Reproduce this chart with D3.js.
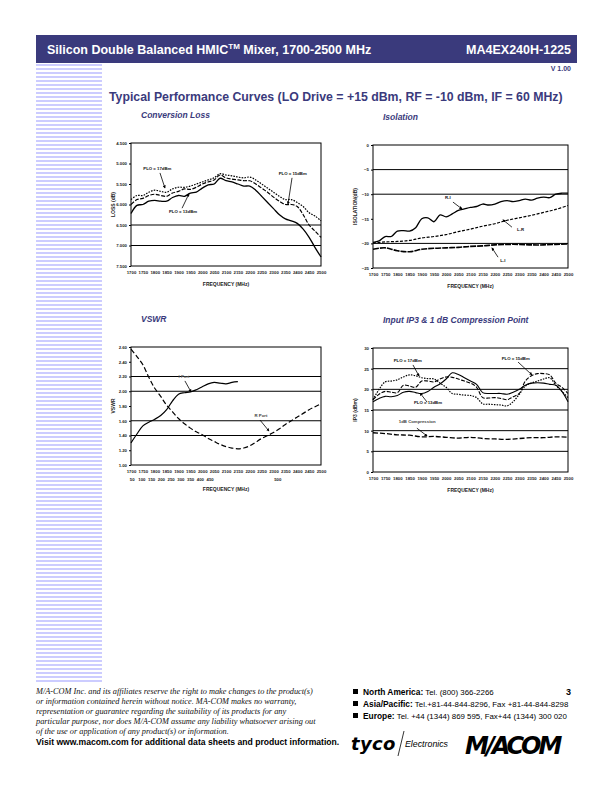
<!DOCTYPE html>
<html>
<head>
<meta charset="utf-8">
<script src="https://cdn.jsdelivr.net/npm/d3@7"></script>
<style>
  body { margin: 0; background: #fff; }
  svg { display: block; }
</style>
</head>
<body>
<script>
// ---- data ----
var f25 = d3.range(1700, 2501, 25);
var f50 = d3.range(1700, 2501, 50);
var fTicks = d3.range(1700, 2501, 50);

var lossPlo13 = [6.22,6.02,6.0,5.92,5.9,5.92,5.92,5.83,5.78,5.8,5.72,5.7,5.6,5.52,5.5,5.36,5.42,5.45,5.5,5.55,5.55,5.65,5.8,5.95,6.1,6.25,6.35,6.4,6.46,6.6,6.8,7.05,7.28];
var lossPlo15 = [6.0,5.88,5.85,5.78,5.75,5.78,5.8,5.72,5.68,5.62,5.63,5.58,5.5,5.45,5.4,5.28,5.35,5.38,5.4,5.42,5.42,5.5,5.6,5.7,5.82,5.92,6.0,6.0,6.05,6.25,6.5,6.65,6.8];
var lossPlo17 = [5.88,5.78,5.78,5.7,5.65,5.68,5.7,5.62,5.58,5.58,5.55,5.5,5.45,5.4,5.35,5.25,5.28,5.3,5.33,5.35,5.33,5.4,5.5,5.6,5.7,5.8,5.88,5.88,5.95,6.05,6.2,6.28,6.4];
var lossTicks = [4.5,5.0,5.5,6.0,6.5,7.0,7.5];
var lossGrid = [6.5,7.0];

var isoRI = [-19.8,-19.5,-18.6,-18.6,-17.5,-17.4,-17.5,-16.8,-15.0,-14.8,-15.6,-14.2,-14.6,-14.0,-13.3,-13.0,-12.7,-12.5,-12.0,-12.2,-12.0,-11.5,-11.3,-11.5,-11.3,-11.0,-11.2,-10.8,-10.6,-10.7,-10.0,-9.8,-9.8];
var isoLR = [-19.9,-19.7,-19.6,-19.4,-18.9,-18.6,-18.2,-17.6,-17.1,-16.5,-16.0,-15.3,-14.8,-14.3,-13.7,-13.1,-12.3];
var isoLI = [-21.2,-20.9,-21.5,-21.7,-21.2,-21.0,-20.9,-20.8,-20.6,-20.5,-20.3,-20.2,-20.2,-20.3,-20.3,-20.2,-20.1];
var isoTicks = [0,-5,-10,-15,-20,-25];
var isoGrid = [-5,-10,-20];

var fIport = d3.range(1700, 2151, 25);
var vswrI = [1.30,1.42,1.53,1.58,1.62,1.67,1.75,1.87,1.96,1.98,1.99,2.02,2.06,2.10,2.12,2.11,2.10,2.12,2.13];
var vswrR = [2.57,2.47,2.36,2.19,2.04,1.93,1.81,1.72,1.63,1.56,1.50,1.45,1.41,1.36,1.32,1.28,1.25,1.23,1.22,1.23,1.26,1.31,1.36,1.40,1.44,1.49,1.55,1.60,1.65,1.70,1.75,1.79,1.83];
var vswrTicks = [2.6,2.4,2.2,2.0,1.8,1.6,1.4,1.2,1.0];
var vswrGrid = [2.2,2.0,1.6,1.4];
var ifTicks = [50,100,150,200,250,300,350,400,450,500];
var ifAtRf = [1705,1746,1787,1828,1869,1910,1951,1992,2033,2318];

var ip3Plo13 = [17,17.8,18.3,18.2,18.5,19.3,19.5,19.2,19.0,19.5,20.5,21.3,22.5,24.0,23.6,22.8,22.0,21.2,19.2,19.0,19.0,19.0,18.8,19.3,20.0,21.0,21.5,21.6,21.5,21.2,21.0,19.5,17.0];
var ip3Plo15 = [17.5,18.8,19.5,19.3,19.2,21.0,20.8,20.5,22.0,22.0,21.8,22.5,23.0,22.9,22.5,22.0,21.5,20.5,18.0,17.9,18.0,17.8,17.5,18.2,19.0,22.0,23.3,23.8,23.8,23.5,21.5,20.5,19.0];
var ip3Plo17 = [17.5,20.0,21.8,22.0,22.3,23.0,23.5,23.3,22.8,22.6,22.5,21.5,20.5,19.0,18.8,18.6,18.5,18.0,16.5,16.4,16.3,16.2,16.0,17.0,18.8,20.8,21.5,22.0,22.5,22.8,21.0,19.5,18.0];
var p1dB = [9.5,9.3,9.0,8.9,8.5,8.6,8.4,8.2,8.4,8.1,8.0,7.9,8.1,8.3,8.3,8.5,8.4];
var ip3Ticks = [30,25,20,15,10,5,0];
var ip3Grid = [25,20,15,10,5];

// notes: [text, textFreq, textVal, fromFreq, fromVal, toFreq, toVal, colour]
var lossNotes = [["PLO = 17dBm",1752,5.17,1822,5.23,1843,5.6],["PLO = 13dBm",1860,6.2,1915,6.09,1944,5.74],["PLO = 15dBm",2322,5.29,2378,5.35,2361,5.99]];
var isoNotes = [["R-I",1995,-11.0,2028,-11.6,2065,-13.0],["L-R",2291,-17.4,2270,-16.7,2233,-15.2],["L-I",2222,-23.7,2213,-22.8,2188,-20.9]];
var vswrNotes = [["I Port",1900,2.18,1927,2.14,1953,1.99,"#666"],["R Port",2220,1.65,2243,1.61,2281,1.46,"#444"]];
var ip3Notes = [["PLO = 17dBm",1785,26.6,1864,25.9,1889,23.2],["PLO = 15dBm",2228,27.1,2295,26.6,2352,23.5],["PLO = 13dBm",1868,16.4,1922,16.9,1893,19.1],["1dB Compression",1806,11.9,1880,10.6,1922,8.7,"#444"]];

var W = 612, H = 792;
var navy = "#3a3a7c";
var svg = d3.select("body").append("svg").attr("width", W).attr("height", H);

svg.append("defs").append("marker")
  .attr("id", "ah").attr("viewBox", "0 0 6 6").attr("refX", 5).attr("refY", 3)
  .attr("markerWidth", 4).attr("markerHeight", 4).attr("orient", "auto")
  .append("path").attr("d", "M0,0L6,3L0,6z").attr("fill", "#000");

// header band
svg.append("rect").attr("x", 36).attr("y", 35).attr("width", 541).attr("height", 28).attr("fill", navy);
var ht = svg.append("text").attr("x", 47).attr("y", 54).attr("fill", "#fff")
  .style("font", "bold 12.5px 'Liberation Sans', Arial, sans-serif");
ht.append("tspan").text("Silicon Double Balanced HMIC");
ht.append("tspan").attr("dy", -5).style("font-size", "8px").text("TM");
ht.append("tspan").attr("dy", 5).text(" Mixer, 1700-2500 MHz");
svg.append("text").attr("x", 571).attr("y", 54).attr("text-anchor", "end").attr("fill", "#fff")
  .style("font", "bold 12.5px 'Liberation Sans', Arial, sans-serif").text("MA4EX240H-1225");

// striped side bar
svg.append("g").selectAll("rect").data(d3.range(64, 681, 4)).enter().append("rect")
  .attr("x", 36).attr("y", function(d) { return d; }).attr("width", 66).attr("height", 2)
  .attr("fill", "#ccccff");

svg.append("text").attr("x", 571).attr("y", 71).attr("text-anchor", "end").attr("fill", navy)
  .style("font", "bold 7px 'Liberation Sans', Arial, sans-serif").text("V 1.00");

svg.append("text").attr("x", 109).attr("y", 101).attr("fill", navy)
  .style("font", "bold 12.3px 'Liberation Sans', Arial, sans-serif")
  .text("Typical Performance Curves (LO Drive = +15 dBm, RF = -10 dBm, IF = 60 MHz)");

function chart(o) {
  var g = svg.append("g");
  var x = d3.scaleLinear().domain([1700, 2500]).range([o.left, o.right]);
  var y = d3.scaleLinear().domain(o.yDomain).range([o.top, o.bottom]);

  g.append("text").attr("x", o.left + 10).attr("y", o.top - 25).attr("fill", navy)
    .style("font", "italic bold 8.5px 'Liberation Sans', Arial, sans-serif").text(o.title);

  g.selectAll(".grid").data(o.grid).enter().append("line")
    .attr("x1", o.left).attr("x2", o.right)
    .attr("y1", function(d) { return y(d); }).attr("y2", function(d) { return y(d); })
    .attr("stroke", "#000").attr("stroke-width", 1);

  g.append("rect").attr("x", o.left).attr("y", o.top).attr("width", o.right - o.left)
    .attr("height", o.bottom - o.top).attr("fill", "none").attr("stroke", "#000").attr("stroke-width", 1);

  var yAxis = d3.axisLeft(y).tickValues(o.yTicks).tickSize(2).tickPadding(2).tickFormat(o.fmt);
  var ya = g.append("g").attr("transform", "translate(" + o.left + ",0)").call(yAxis);
  ya.select(".domain").remove();

  var xAxis = d3.axisBottom(x).tickValues(fTicks).tickSize(0).tickPadding(5).tickFormat(d3.format("d"));
  var xa = g.append("g").attr("transform", "translate(0," + o.bottom + ")").call(xAxis);
  xa.select(".domain").remove();

  [ya, xa].forEach(function(a) {
    a.selectAll("text").style("font", "bold 4.3px 'Liberation Sans', Arial, sans-serif").attr("fill", "#222");
    a.selectAll("line").attr("stroke", "#000");
  });

  if (o.ifRow) {
    g.selectAll(".iftick").data(ifTicks).enter().append("text")
      .attr("x", function(d, i) { return x(ifAtRf[i]); })
      .attr("y", o.bottom + 16).attr("text-anchor", "middle").attr("fill", "#222")
      .style("font", "bold 4.3px 'Liberation Sans', Arial, sans-serif")
      .text(function(d) { return d; });
  }

  g.append("text").attr("x", (o.left + o.right) / 2).attr("y", o.bottom + (o.ifRow ? 26 : 20))
    .attr("text-anchor", "middle").attr("fill", "#222")
    .style("font", "bold 5px 'Liberation Sans', Arial, sans-serif").text("FREQUENCY (MHz)");

  g.append("text").attr("transform", "translate(" + (o.left - 16) + "," + ((o.top + o.bottom) / 2) + ") rotate(-90)")
    .attr("text-anchor", "middle").attr("fill", "#222")
    .style("font", "bold 5px 'Liberation Sans', Arial, sans-serif").text(o.yLabel);

  var line = d3.line().x(function(d) { return x(d[0]); }).y(function(d) { return y(d[1]); })
    .curve(d3.curveCatmullRom);

  o.series.forEach(function(s) {
    g.append("path").datum(d3.zip(s.f, s.v)).attr("d", line)
      .attr("fill", "none").attr("stroke", "#000").attr("stroke-width", s.w || 1.1)
      .attr("stroke-dasharray", s.dash || null);
  });

  o.notes.forEach(function(n) {
    g.append("text").attr("x", x(n[1])).attr("y", y(n[2])).attr("fill", n[7] || "#111")
      .style("font", "bold 4.3px 'Liberation Sans', Arial, sans-serif").text(n[0]);
    g.append("line").attr("x1", x(n[3])).attr("y1", y(n[4])).attr("x2", x(n[5])).attr("y2", y(n[6]))
      .attr("stroke", "#000").attr("stroke-width", 0.8).attr("marker-end", "url(#ah)");
  });
}

chart({
  title: "Conversion Loss", left: 131, right: 321, top: 143, bottom: 266,
  yDomain: [4.5, 7.5], yTicks: lossTicks, grid: lossGrid, fmt: d3.format(".3f"), yLabel: "LOSS (dB)",
  series: [
    { f: f25, v: lossPlo13, w: 1.3 },
    { f: f25, v: lossPlo15, dash: "4,1.5", w: 1.2 },
    { f: f25, v: lossPlo17, dash: "1.6,1.2", w: 1.2 }
  ],
  notes: lossNotes
});

chart({
  title: "Isolation", left: 373, right: 568, top: 145, bottom: 268,
  yDomain: [0, -25], yTicks: isoTicks, grid: isoGrid, fmt: d3.format("d"), yLabel: "ISOLATION(dB)",
  series: [
    { f: f25, v: isoRI, w: 1.3 },
    { f: f50, v: isoLR, dash: "3,1.5", w: 1.2 },
    { f: f50, v: isoLI, dash: "6,1", w: 1.6 }
  ],
  notes: isoNotes
});

chart({
  title: "VSWR", left: 131, right: 321, top: 347, bottom: 465, ifRow: true,
  yDomain: [2.6, 1.0], yTicks: vswrTicks, grid: vswrGrid, fmt: d3.format(".2f"), yLabel: "VSWR",
  series: [
    { f: fIport, v: vswrI, w: 1.2 },
    { f: f25, v: vswrR, dash: "5,2.5", w: 1.2 }
  ],
  notes: vswrNotes
});

chart({
  title: "Input IP3 & 1 dB Compression Point", left: 373, right: 568, top: 348, bottom: 472,
  yDomain: [30, 0], yTicks: ip3Ticks, grid: ip3Grid, fmt: d3.format("d"), yLabel: "IP3 (dBm)",
  series: [
    { f: f25, v: ip3Plo13, w: 1.1 },
    { f: f25, v: ip3Plo15, dash: "4,1.5", w: 1.1 },
    { f: f25, v: ip3Plo17, dash: "1.5,1.2", w: 1.2 },
    { f: f50, v: p1dB, dash: "5,2", w: 1.3 }
  ],
  notes: ip3Notes
});

// footer
var disclaimer = [
  "M/A-COM Inc. and its affiliates reserve the right to make changes to the product(s)",
  "or information contained herein without notice. MA-COM makes no warranty,",
  "representation or guarantee regarding the suitability of its products for any",
  "particular purpose, nor does M/A-COM assume any liability whatsoever arising out",
  "of the use or application of any product(s) or information."
];
svg.append("g").selectAll("text").data(disclaimer).enter().append("text")
  .attr("x", 36).attr("y", function(d, i) { return 694 + i * 10; })
  .style("font", "italic 8.3px 'Liberation Serif', 'Times New Roman', serif").attr("fill", "#111")
  .text(function(d) { return d; });
svg.append("text").attr("x", 36).attr("y", 745)
  .style("font", "bold 8.6px 'Liberation Sans', Arial, sans-serif").attr("fill", "#000")
  .text("Visit www.macom.com for additional data sheets and product information.");

var contacts = [
  ["North America:", " Tel. (800) 366-2266"],
  ["Asia/Pacific:", " Tel.+81-44-844-8296,  Fax +81-44-844-8298"],
  ["Europe:", " Tel. +44 (1344) 869 595,  Fax+44 (1344) 300 020"]
];
var cg = svg.append("g");
contacts.forEach(function(c, i) {
  var yy = 695 + i * 12;
  cg.append("rect").attr("x", 353).attr("y", yy - 6).attr("width", 5).attr("height", 5).attr("fill", "#000");
  var t = cg.append("text").attr("x", 363).attr("y", yy);
  t.append("tspan").style("font", "bold 8.4px 'Liberation Sans', Arial, sans-serif").text(c[0]);
  t.append("tspan").style("font", "7.9px 'Liberation Sans', Arial, sans-serif").text(c[1]);
});
svg.append("text").attr("x", 571).attr("y", 695).attr("text-anchor", "end")
  .style("font", "bold 9px 'Liberation Sans', Arial, sans-serif").text("3");

// logos as text
svg.append("text").attr("x", 351).attr("y", 750)
  .style("font", "italic 900 18px 'DejaVu Sans', sans-serif").attr("letter-spacing", 0.3).text("tyco");
svg.append("line").attr("x1", 398).attr("y1", 756).attr("x2", 404).attr("y2", 731).attr("stroke", "#000").attr("stroke-width", 0.8);
svg.append("text").attr("x", 405).attr("y", 747)
  .style("font", "italic 8.8px 'Liberation Sans', Arial, sans-serif").text("Electronics");
svg.append("text").attr("x", 465).attr("y", 754)
  .style("font", "italic 900 24px 'DejaVu Sans', sans-serif").attr("letter-spacing", -3).text("M/ACOM");
</script>
</body>
</html>
